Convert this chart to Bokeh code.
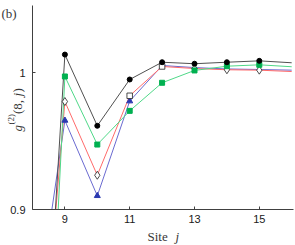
import math
from bokeh.plotting import figure
from bokeh.models import Range1d, FixedTicker, Label
from bokeh.embed import file_html
from bokeh.resources import INLINE

# ---- data ----
sites = [8, 9, 10, 11, 12, 13, 14, 15, 16]
black_vals = [0.627, 1.0131, 0.9611, 0.9949, 1.0075, 1.0064, 1.0075, 1.0085, 1.0071]
green_vals = [0.528, 0.9971, 0.9474, 0.9720, 0.9925, 1.0015, 1.0046, 1.0056, 1.0042]
red_vals = [0.695, 0.9788, 0.9250, 0.9830, 1.0044, 1.0029, 1.0020, 1.0017, 1.0007]
blue_vals = [0.803, 0.9650, 0.9100, 0.9791, 1.0051, 1.0036, 1.0026, 1.0022, 1.0017]

marker_sites = [9, 10, 11, 12, 13, 14, 15]
red_diamond_sites = [9, 10, 13, 14, 15]
red_square_sites = [11, 12]
blue_marker_sites = [9, 10, 11]

x_ticks = [9, 11, 13, 15]
y_ticks = [0.9, 1.0]
y_tick_labels = {0.9: "0.9", 1.0: "1"}
x_axis_start, x_axis_end = 8, 16.06
y_axis_start, y_axis_end = 0.9, 1.049


def pick(vals, which):
    d = dict(zip(sites, vals))
    return [d[s] for s in which]


# The frame fills the whole canvas; both axes are pinned at (8, 0.9).
W, H = 295, 245
px_per_x = 32.4
px_per_y = 1370.0
axis_px_x, axis_px_y = 32, 209          # canvas position of the axes corner
x_start = x_axis_start - axis_px_x / px_per_x
x_end = x_start + W / px_per_x
y_start = y_axis_start - (H - axis_px_y) / px_per_y
y_end = y_axis_start + axis_px_y / px_per_y

p = figure(frame_width=W, frame_height=H, output_backend="svg",
           toolbar_location=None,
           x_range=Range1d(x_start, x_end), y_range=Range1d(y_start, y_end),
           min_border_left=0, min_border_right=0, min_border_top=0,
           min_border_bottom=0)
p.grid.visible = False
p.outline_line_color = None
p.background_fill_color = "white"
p.border_fill_color = "white"

# lines
p.line(sites, blue_vals, line_color="#6a6ad0", line_width=1)
p.line(sites, red_vals, line_color="#ff6a6a", line_width=1)
p.line(sites, green_vals, line_color="#4fd888", line_width=1)
p.line(sites, black_vals, line_color="#505050", line_width=1)

# white band below the x axis (the original clips curves at the axes box)
p.quad(left=[x_start], right=[x_end], bottom=[y_start], top=[y_axis_start],
       fill_color="white", line_color=None)

# markers
p.scatter(blue_marker_sites, pick(blue_vals, blue_marker_sites), marker="triangle",
          size=6, fill_color="#2a38b0", line_color="#2a38b0")
p.scatter(red_diamond_sites, pick(red_vals, red_diamond_sites), marker="diamond",
          size=8, fill_color="white", line_color="#202020", line_width=0.8)
p.scatter(red_square_sites, pick(red_vals, red_square_sites), marker="square",
          size=5.5, fill_color="white", line_color="#202020", line_width=0.8)
p.scatter(marker_sites, pick(green_vals, marker_sites), marker="square",
          size=5, fill_color="#00b050", line_color="#00b050")
p.scatter(marker_sites, pick(black_vals, marker_sites), marker="circle",
          size=5, fill_color="black", line_color="black")

# axes
for ax in (p.xaxis[0], p.yaxis[0]):
    ax.axis_line_color = "#404040"
    ax.major_tick_line_color = "#404040"
    ax.major_tick_in = 3
    ax.major_tick_out = 0
    ax.minor_tick_line_color = None
    ax.major_label_text_font = "Liberation Sans"
    ax.major_label_text_font_size = "11px"
    ax.major_label_text_color = "#202020"
p.xaxis.ticker = FixedTicker(ticks=x_ticks)
p.yaxis.ticker = FixedTicker(ticks=y_ticks)
p.yaxis.major_label_overrides = y_tick_labels
p.xaxis.bounds = (x_axis_start, x_axis_end)
p.yaxis.bounds = (y_axis_start, y_axis_end)
p.yaxis.fixed_location = x_axis_start
p.xaxis.fixed_location = y_axis_start
p.xaxis.major_label_standoff = 5
p.yaxis.major_label_standoff = 7

serif = "Liberation Serif"
txt_color = "#383838"

def lab(text, x, y, size="13px", style="normal", angle=0.0):
    p.add_layout(Label(x=x, y=y, x_units="screen", y_units="screen", text=text,
                       text_font=serif, text_font_size=size, text_font_style=style,
                       text_color=txt_color, angle=angle, text_align="left",
                       text_baseline="alphabetic"))

# panel tag (screen y counts up from the canvas bottom)
lab("(b)", 1, H - 13)

# x label
lab("Site", 147, H - 236)
lab("j", 175, H - 236, style="italic")

# y label (rotated, reads upward)
a = math.pi / 2
lab("g", 16.5, H - 131, style="italic", angle=a)
lab("(2)", 10, H - 124, size="9px", angle=a)
lab("(8, ", 16.5, H - 113.5, angle=a)
lab("j", 16.5, H - 96, style="italic", angle=a)
lab(")", 16.5, H - 92, angle=a)

open("out.html", "w").write(file_html(p, INLINE))
